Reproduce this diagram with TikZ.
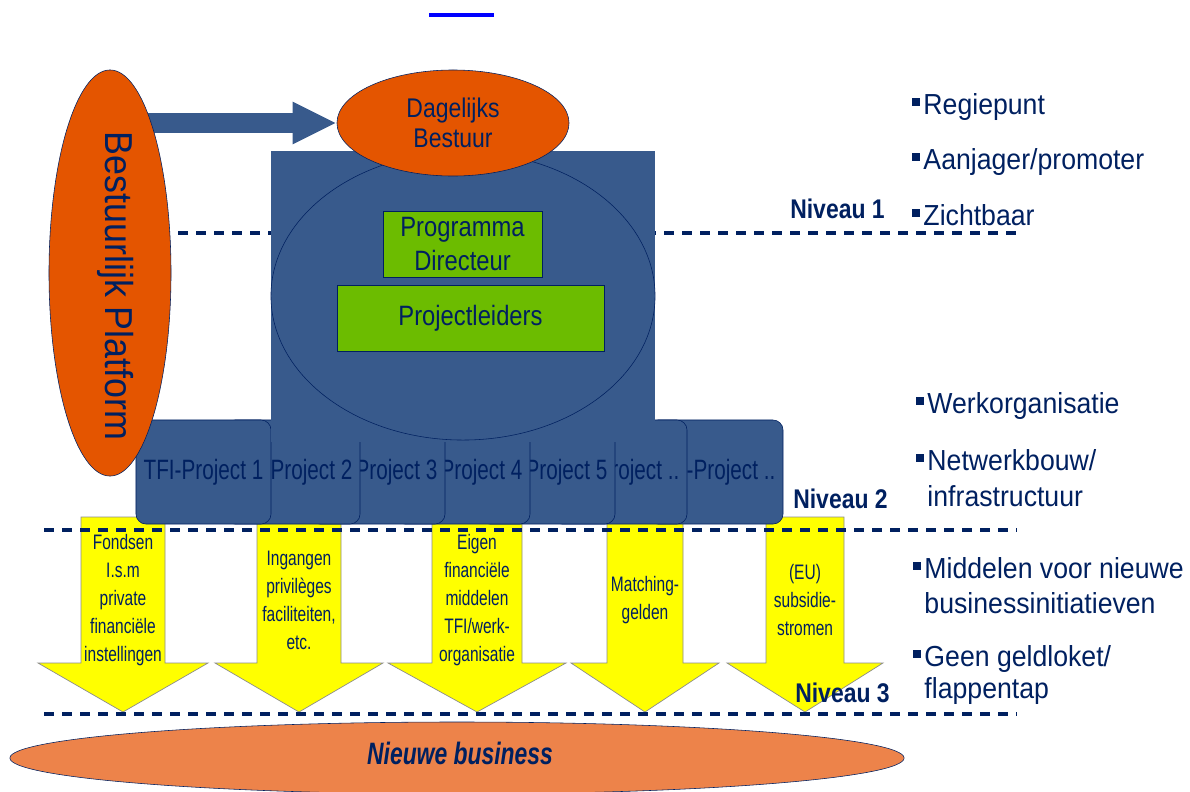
\documentclass[tikz,border=0pt]{standalone}
\usepackage{fontspec}
\setmainfont{Liberation Sans}
\newfontfamily\narrowfont{Liberation Sans}[FakeStretch=0.74]
\newfontfamily\midfont{Liberation Sans}[FakeStretch=0.85]
\newfontfamily\sidefont{Liberation Sans}[FakeStretch=0.92]
\usetikzlibrary{shapes.geometric, arrows.meta, positioning, backgrounds}
\definecolor{navytext}{RGB}{0,32,96}
\definecolor{boxblue}{RGB}{56,90,140}
\definecolor{burnt}{RGB}{228,85,0}
\definecolor{peach}{RGB}{237,131,74}
\definecolor{leaf}{RGB}{108,188,0}
\definecolor{fundyellow}{RGB}{255,255,0}
\definecolor{linkblue}{RGB}{0,0,255}
\newcommand{\sqbullet}{\raisebox{0.2cm}{\rule{0.2cm}{0.2cm}}\hspace{0.08cm}}

\begin{document}
\begin{tikzpicture}[
    x=0.025cm, y=-0.025cm,
    tab/.style={draw=navytext, fill=boxblue, rounded corners=0.25cm, minimum width=3.375cm, minimum height=2.6cm, inner sep=0pt, text=navytext, font={\narrowfont\fontsize{19.9pt}{24pt}\selectfont}},
    fund/.style={draw=black!45, fill=fundyellow, line width=0.5pt},
    fundtext/.style={align=center, inner sep=0pt, text=navytext, font={\narrowfont\fontsize{14.9pt}{19.9pt}\selectfont}},
    level/.style={navytext, line width=0.1cm, dash pattern=on 0.25cm off 0.2cm},
    greenbox/.style={draw=navytext, fill=leaf, inner sep=0pt, align=center, text=navytext, font={\midfont\fontsize{19.9pt}{23.5pt}\selectfont}},
    orangeoval/.style={ellipse, draw=navytext, fill=burnt, inner sep=0pt, text=navytext},
    niveau/.style={anchor=base west, inner sep=0pt, text=navytext, font={\midfont\bfseries\fontsize{19.2pt}{23pt}\selectfont}},
    side/.style={anchor=base west, inner sep=0pt, text=navytext, font={\sidefont\fontsize{20.6pt}{25pt}\selectfont}},
    blockarrow/.style={boxblue, line width=0.5cm, -{Triangle[length=1.1cm, width=0.975cm]}}
]
\useasboundingbox (0,0) rectangle (1190,791);

% link stripe at the top
\fill[linkblue] (429,13) rectangle (494,17);

% money flows (niveau 3)
\foreach \c/\s/\h in {123/42/85, 299/42/84, 477/45/89, 645/38/74, 805/39/78}
    \draw[fund] (\c-\s,517) -- (\c+\s,517) -- (\c+\s,663) -- (\c+\h,663)
        -- (\c,712) -- (\c-\h,663) -- (\c-\s,663) -- cycle;
\node[fundtext] (fonds) at (123,600) {Fondsen\\I.s.m\\private\\financiële\\instellingen};
\node[fundtext] (ingang) at (299,600) {Ingangen\\privilèges\\faciliteiten,\\etc.};
\node[fundtext] (eigen) at (477,600) {Eigen\\financiële\\middelen\\TFI/werk-\\organisatie};
\node[fundtext] (match) at (645,600) {Matching-\\gelden};
\node[fundtext] (subsid) at (805,600) {(EU)\\subsidie-\\stromen};

% level lines
\draw[level] (52,233) -- (1017,233);
\draw[level] (44,530) -- (1017,530);
\draw[level] (44,714) -- (1017,714);

% project tabs, first one on top
\foreach \i/\r/\t in {7/783/{..}, 6/687/{..}, 5/615/5, 4/530/4, 3/445/3, 2/360/2, 1/271/1}
    \node[tab] (tfi\i) at (\r-67.5,472) {TFI-Project \t};

% werkorganisatie
\node[fill=boxblue, inner sep=0pt, minimum width=9.6cm, minimum height=7.275cm] (werk) at (463,296.5) {};
\node[ellipse, draw=navytext, inner sep=0pt, minimum width=9.6cm, minimum height=7.2cm] (kern) at (463,296) {};
\node[greenbox, minimum width=3.975cm, minimum height=1.65cm] (pd) at (462.5,244) {Programma\\Directeur};
\node[greenbox, minimum width=6.675cm, minimum height=1.65cm] (pl) at (470.5,318) {Projectleiders};

% bestuur
\node[orangeoval, minimum width=5.8cm, minimum height=2.65cm, align=center, font={\midfont\fontsize{19.2pt}{21.3pt}\selectfont}] (dag) at (453,123) {Dagelijks\\Bestuur};
\node[orangeoval, minimum width=3.05cm, minimum height=10.15cm] (plat) at (110,273) {};
\node[rotate=-90, inner sep=0pt, text=navytext, font={\sidefont\fontsize{27.7pt}{30pt}\selectfont}] (platlabel) at (116,286) {Bestuurlijk Platform};
\begin{scope}[on background layer]
    \draw[blockarrow] (plat.center |- dag.west) -- (dag.west);
\end{scope}

% nieuwe business
\node[ellipse, draw=navytext, fill=peach, inner sep=0pt, minimum width=22.35cm, minimum height=1.8cm] (nieuw) at (457,758) {};
\node[inner sep=0pt, text=navytext, font={\narrowfont\bfseries\itshape\fontsize{22pt}{24pt}\selectfont}] (nieuwlabel) at (460,753) {Nieuwe business};

% levels
\node[niveau] (niv1) at (790,218) {Niveau 1};
\node[niveau] (niv2) at (793,508) {Niveau 2};
\node[niveau] (niv3) at (795,702) {Niveau 3};

% remarks on the right
\node[side] (regie) at (912,114) {\sqbullet Regiepunt};
\node[side] (aanj) at (912,169) {\sqbullet Aanjager/promoter};
\node[side] (zicht) at (912,225) {\sqbullet Zichtbaar};
\node[side] (werkorg) at (916,413) {\sqbullet Werkorganisatie};
\node[side] (netw) at (916,470) {\sqbullet Netwerkbouw/};
\node[side] (infra) at ([xshift=0.28cm, yshift=-0.9cm]netw.base west) {infrastructuur};
\node[side] (midd) at (913,578) {\sqbullet Middelen voor nieuwe};
\node[side] (busin) at ([xshift=0.28cm, yshift=-0.875cm]midd.base west) {businessinitiatieven};
\node[side] (geen) at (913,666) {\sqbullet Geen geldloket/};
\node[side] (flap) at ([xshift=0.28cm, yshift=-0.8cm]geen.base west) {flappentap};
\end{tikzpicture}
\end{document}
